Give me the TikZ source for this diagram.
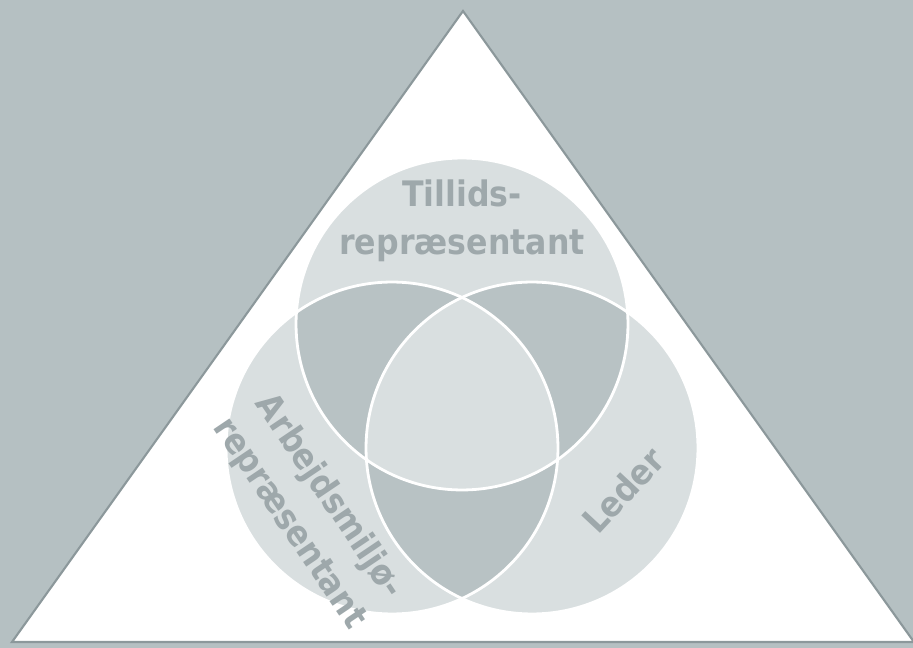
\documentclass[tikz,border=0pt]{standalone}
\usepackage{fontspec}
\setmainfont{DejaVu Sans Condensed}
\definecolor{backdrop}{RGB}{181,192,194}
\definecolor{ringfill}{RGB}{217,223,224}
\definecolor{overlap}{RGB}{184,194,196}
\definecolor{edgegray}{RGB}{140,152,155}
\definecolor{labelgray}{RGB}{158,168,171}

\begin{document}
\begin{tikzpicture}[
    x=0.02cm, y=-0.02cm,
    ring/.style={draw=white, line width=1.6pt},
    tag/.style={text=labelgray, font=\fontsize{20}{27.5}\selectfont\bfseries, inner sep=0pt, align=center}
]
    % Frame
    \fill[backdrop] (0,0) rectangle (913,648);
    \useasboundingbox (0,0) rectangle (913,648);
    \filldraw[fill=white, draw=edgegray, line width=1.2pt] (463,11) -- (914,642) -- (12,642) -- cycle;

    % Circle centres
    \coordinate (ctop) at (462,324);
    \coordinate (cleft) at (392,448);
    \coordinate (cright) at (532,448);

    \foreach \c in {ctop, cleft, cright}
        \fill[ringfill] (\c) circle[radius=3.32cm];

    % Pairwise overlaps
    \foreach \a/\b in {ctop/cleft, ctop/cright, cleft/cright} {
        \begin{scope}
            \clip (\a) circle[radius=3.32cm];
            \fill[overlap] (\b) circle[radius=3.32cm];
        \end{scope}
    }

    % Common centre
    \begin{scope}
        \clip (ctop) circle[radius=3.32cm];
        \clip (cleft) circle[radius=3.32cm];
        \fill[ringfill] (cright) circle[radius=3.32cm];
    \end{scope}

    \foreach \c in {ctop, cleft, cright}
        \draw[ring] (\c) circle[radius=3.32cm];

    % Labels
    \node[tag] (trusted) at (462,221) {Tillids-\\repræsentant};
    \node[tag, rotate=-56] (safety) at (309,510) {Arbejdsmiljø-\\repræsentant};
    \node[tag, rotate=47] (leader) at (623,490) {Leder};

\end{tikzpicture}
\end{document}
